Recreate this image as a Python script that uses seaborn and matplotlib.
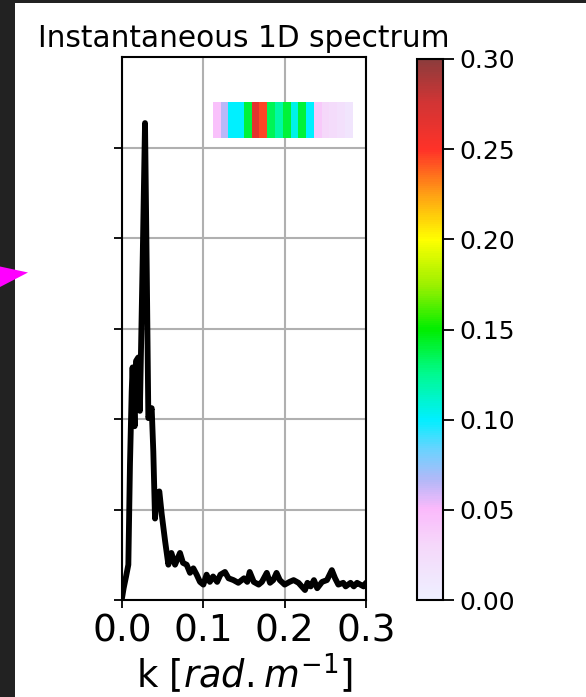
import numpy as np
import pandas as pd
import matplotlib
matplotlib.use("Agg")
import matplotlib.pyplot as plt
import seaborn as sns
from matplotlib.colors import LinearSegmentedColormap
from matplotlib.patches import Rectangle, Polygon

# 1D wavenumber spectrum
k_vals = [0.000, 0.002, 0.005, 0.0078, 0.0098, 0.0119, 0.013, 0.0155, 0.0172, 0.020,
          0.022, 0.0255, 0.0283, 0.0305, 0.0324, 0.0365, 0.0385, 0.0406, 0.0426, 0.0459,
          0.0488, 0.053, 0.057, 0.0607, 0.0652, 0.0713, 0.0750, 0.0795, 0.0836, 0.0877,
          0.0918, 0.0959, 0.100, 0.104, 0.108, 0.112, 0.117, 0.121, 0.1266, 0.131,
          0.137, 0.143, 0.150, 0.154, 0.157, 0.162, 0.168, 0.172, 0.178, 0.182,
          0.186, 0.190, 0.194, 0.200, 0.206, 0.211, 0.217, 0.225, 0.228, 0.232,
          0.236, 0.240, 0.246, 0.252, 0.258, 0.262, 0.266, 0.272, 0.275, 0.281,
          0.285, 0.289, 0.293, 0.297, 0.300]
spectrum = [0.02, 0.13, 0.26, 0.39, 1.5, 2.3, 2.57, 1.92, 2.64, 2.68,
            2.09, 3.8, 5.27, 3.6, 2.01, 2.12, 1.64, 0.9, 1.17, 1.2,
            0.95, 0.65, 0.39, 0.52, 0.39, 0.52, 0.41, 0.39, 0.30, 0.35,
            0.28, 0.2, 0.17, 0.28, 0.2, 0.26, 0.2, 0.28, 0.31, 0.24,
            0.22, 0.19, 0.24, 0.2, 0.31, 0.2, 0.17, 0.2, 0.3, 0.19,
            0.22, 0.3, 0.22, 0.17, 0.2, 0.22, 0.19, 0.11, 0.19, 0.15,
            0.22, 0.13, 0.2, 0.22, 0.33, 0.24, 0.17, 0.19, 0.15, 0.19,
            0.15, 0.19, 0.17, 0.15, 0.19]

# Energy strip shown above the curve
strip_values = [0.045, 0.065, 0.10, 0.10, 0.14, 0.265, 0.245, 0.135, 0.12,
                0.14, 0.105, 0.14, 0.10, 0.04, 0.03, 0.025, 0.02, 0.015]
strip_k_range = (0.1116, 0.2838)
strip_y_range = (5.11, 5.50)

x_ticks = [0.0, 0.1, 0.2, 0.3]
x_tick_labels = ["0.0", "0.1", "0.2", "0.3"]
cbar_ticks = [0.00, 0.05, 0.10, 0.15, 0.20, 0.25, 0.30]

# Wave-energy colormap
cmap = LinearSegmentedColormap.from_list("wave", [
    (0.00, "#eef0ff"),
    (0.10, "#f5d8fa"),
    (0.167, "#fbb9fb"),
    (0.22, "#b4b8f8"),
    (0.28, "#66d4ff"),
    (0.333, "#00f0ff"),
    (0.42, "#00fa8c"),
    (0.50, "#00ee00"),
    (0.58, "#99f000"),
    (0.667, "#ffff00"),
    (0.75, "#ffa014"),
    (0.833, "#ff3228"),
    (0.92, "#d23434"),
    (1.00, "#8c3c3c"),
])

sns.set_theme(style="ticks")
plt.rcParams["font.family"] = ["DejaVu Sans"]
plt.rcParams["mathtext.fontset"] = "dejavusans"
plt.rcParams.update({
    "text.color": "black",
    "axes.labelcolor": "black",
    "xtick.color": "black",
    "ytick.color": "black",
    "xtick.labelcolor": "black",
    "ytick.labelcolor": "black",
})

W, H = 586, 697
fig = plt.figure(figsize=(W / 100, H / 100), dpi=100)
fig.patch.set_facecolor("white")

ax = fig.add_axes([122 / W, 1 - 600 / H, 244 / W, 543 / H])
df = pd.DataFrame({"k": k_vals, "S": spectrum})
sns.lineplot(data=df, x="k", y="S", ax=ax, color="black", linewidth=4.2,
             sort=False, estimator=None)
ax.lines[0].set_solid_joinstyle("round")

edges = np.linspace(strip_k_range[0], strip_k_range[1], len(strip_values) + 1)
mesh = ax.pcolormesh(edges, np.array(strip_y_range), np.array([strip_values]),
                     cmap=cmap, vmin=0.0, vmax=0.3, zorder=3)

ax.set_xlim(0, 0.3)
ax.set_ylim(0, 6)
ax.set_xticks(x_ticks)
ax.set_xticklabels(x_tick_labels)
ax.set_yticks([0, 1, 2, 3, 4, 5])
ax.set_yticklabels([])
ax.grid(True, color="#b0b0b0", linewidth=1.5)
ax.set_axisbelow(True)
for s in ax.spines.values():
    s.set_linewidth(1.5)
    s.set_color("black")
ax.tick_params(axis="both", length=5.5, width=1.3, color="black")
ax.tick_params(axis="x", labelsize=27, pad=4)
ax.set_xlabel(r"k $[rad.m^{-1}]$", fontsize=26.5, labelpad=2, color="black")
ax.set_ylabel("")
ax.set_title("Instantaneous 1D spectrum", fontsize=21.3, pad=7, color="black")

cax = fig.add_axes([417 / W, 1 - 600 / H, 26 / W, 541 / H])
cb = fig.colorbar(mesh, cax=cax, ticks=cbar_ticks)
cb.ax.set_yticklabels([f"{t:.2f}" for t in cbar_ticks])
cb.ax.tick_params(labelsize=18, length=8, width=1.3, pad=4, color="black",
                  labelcolor="black")
cb.outline.set_linewidth(1.5)
cb.outline.set_edgecolor("black")

# Dark frame and marker along the left edge
fig.patches.append(Rectangle((0, 0), 15 / W, 1, transform=fig.transFigure,
                             facecolor="#222222", edgecolor="none", zorder=5))
fig.patches.append(Rectangle((0, 1 - 3 / H), 1, 3 / H, transform=fig.transFigure,
                             facecolor="#222222", edgecolor="none", zorder=5))
fig.patches.append(Polygon([(0, 1 - 266.5 / H), (28 / W, 1 - 272.5 / H), (0, 1 - 287 / H)],
                           closed=True, transform=fig.transFigure,
                           facecolor="#ff00ff", edgecolor="none", zorder=6))

fig.savefig("out.png", dpi=100)
